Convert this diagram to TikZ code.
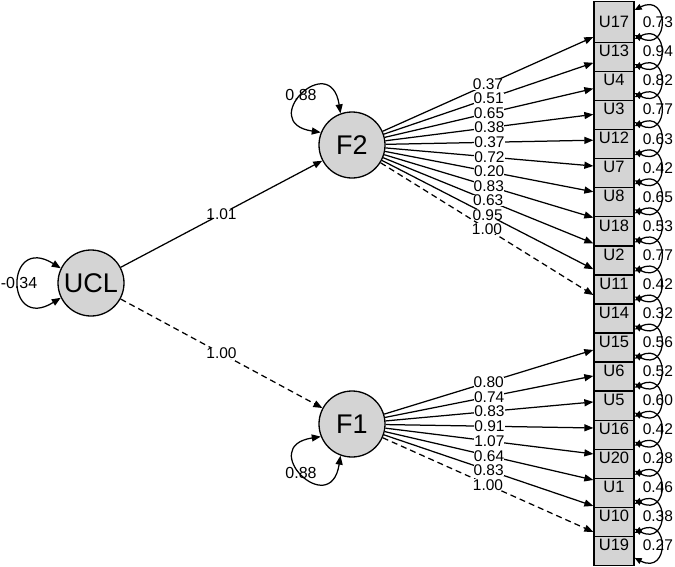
\documentclass[tikz,border=0pt]{standalone}
\usepackage{fontspec}
\setmainfont{Liberation Sans}
\usetikzlibrary{arrows.meta}
\definecolor{boxgray}{RGB}{212,212,212}
\begin{document}
\begin{tikzpicture}[x=1pt,y=-1pt,
  lat/.style={circle, draw, line width=1.3pt, fill=boxgray, minimum size=66pt, inner sep=0pt, font=\fontsize{27}{30}\selectfont},
  obs/.style={rectangle, draw, line width=1.3pt, fill=boxgray, minimum width=40pt, minimum height=41pt, inner sep=0pt, font=\fontsize{16.5}{18}\selectfont},
  arr/.style={line width=1.25pt, -{Triangle[length=9pt,width=7pt]}},
  dblarr/.style={line width=1.25pt, {Triangle[length=9pt,width=7pt]}-{Triangle[length=9pt,width=7pt]}},
  sdbl/.style={line width=1.25pt, {Triangle[length=7pt,width=6pt]}-{Triangle[length=7pt,width=6pt]}},
  mydash/.style={dash pattern=on 6pt off 4pt},
  mysolid/.style={},
  lbl/.style={font=\fontsize{15.5}{17}\selectfont, fill=white, inner sep=0pt},
  plain/.style={font=\fontsize{16}{18}\selectfont, inner sep=0pt},
  rl/.style={font=\fontsize{15.5}{17}\selectfont, inner sep=0pt, xshift=-3pt}
]
\useasboundingbox (0,0) rectangle (675,566);

% latent variables
\node[lat] (UCL) at (91,283) {UCL};
\node[lat] (F2) at (352,145) {F2};
\node[lat] (F1) at (352,424) {F1};

% observed boxes, drawn from the bottom up so upper boxes overlap lower ones
\foreach \n/\k in {U19/18,U10/17,U1/16,U20/15,U16/14,U5/13,U6/12,U15/11,U14/10,U11/9,U2/8,U18/7,U8/6,U7/5,U12/4,U3/3,U4/2,U13/1,U17/0}
  \node[obs] (\n) at (614,{22+29.05*\k}) {\n};

% structural paths
\draw[arr] (UCL) -- (F2) node[lbl,pos=0.5] (wF2) {1.01};
\draw[arr,mydash] (UCL) -- (F1) node[lbl,pos=0.5] (wF1) {1.00};

% loadings F2
\foreach \n/\w/\s/\st in {U17/0.37/-15/mysolid,U13/0.51/-11.75/mysolid,U4/0.65/-8.5/mysolid,U3/0.38/-5.25/mysolid,U12/0.37/-2/mysolid,U7/0.72/1.25/mysolid,U8/0.20/4.5/mysolid,U18/0.83/7.75/mysolid,U2/0.63/11/mysolid,U11/0.95/14.25/mysolid,U14/1.00/17.5/mydash}
  \draw[arr,\st] (F2) -- ([yshift=\s pt]\n.west) node[lbl,pos=0.5] (w\n) {\w};

% loadings F1
\foreach \n/\w/\s/\st in {U15/0.80/-8.4/mysolid,U6/0.74/-5.35/mysolid,U5/0.83/-2.3/mysolid,U16/0.91/0.75/mysolid,U20/1.07/3.8/mysolid,U1/0.64/6.85/mysolid,U10/0.83/9.9/mysolid,U19/1.00/12.95/mydash}
  \draw[arr,\st] (F1) -- ([yshift=\s pt]\n.west) node[lbl,pos=0.5] (w\n) {\w};

% variances of latent variables
\draw[dblarr] (UCL.154) .. controls +(-56,-35) and +(-56,35) .. (UCL.206);
\node[plain] (vUCL) at (19,283) {-0.34};
\draw[dblarr] (F2.110) .. controls +(-10,-65) and +(-65,-10) .. (F2.158);
\node[plain] (vF2) at (301,95) {0.88};
\draw[dblarr] (F1.202) .. controls +(-65,10) and +(-10,65) .. (F1.250);
\node[plain] (vF1) at (301,473) {0.88};

% residual variances
\foreach \n/\v in {U17/0.73,U13/0.94,U4/0.82,U3/0.77,U12/0.63,U7/0.42,U8/0.65,U18/0.53,U2/0.77,U11/0.42,U14/0.32,U15/0.56,U6/0.52,U5/0.60,U16/0.42,U20/0.28,U1/0.46,U10/0.38,U19/0.27}
  \draw[sdbl] ([yshift=12pt]\n.east) .. controls +(35,-18) and +(35,18) .. ([yshift=-13pt]\n.east) node[rl,pos=0.5] (r\n) {\v};
\end{tikzpicture}
\end{document}
